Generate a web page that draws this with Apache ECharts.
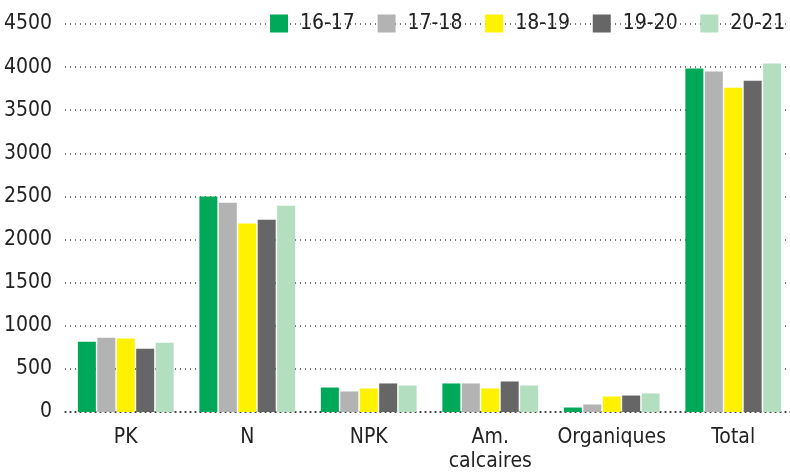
<!DOCTYPE html>
<html>
<head>
<meta charset="utf-8">
<script src="https://cdn.jsdelivr.net/npm/echarts@6/dist/echarts.min.js"></script>
<style>
  html, body { margin: 0; padding: 0; background: #fff; }
  #main { width: 790px; height: 474px; }
</style>
</head>
<body>
<div id="main"></div>
<script>
// catégories et valeurs par campagne
var categories = ['PK', 'N', 'NPK', 'Am.\ncalcaires', 'Organiques', 'Total'];
var seasons = ['16-17', '17-18', '18-19', '19-20', '20-21'];
var v1617 = [815, 2500, 284, 331, 52, 3983];
var v1718 = [862, 2428, 238, 331, 87, 3948];
var v1819 = [851, 2185, 273, 273, 180, 3762];
var v1920 = [734, 2231, 331, 354, 191, 3843];
var v2021 = [804, 2393, 307, 307, 215, 4041];
var colors = ['#00a859', '#b3b3b3', '#fff200', '#666666', '#b3dec0'];

var font = '"DejaVu Sans Condensed", "Liberation Sans Narrow", "Roboto", sans-serif';
var myChart = echarts.init(document.getElementById('main'));

var values = [v1617, v1718, v1819, v1920, v2021];
var series = [];
seasons.forEach(function (name, i) {
  series.push({
    name: name,
    type: 'bar',
    data: values[i],
    barWidth: 18,
    barGap: '8%',
    itemStyle: { color: colors[i] }
  });
});

var option = {
  animation: false,
  textStyle: { fontFamily: font },
  legend: {
    top: 13,
    left: 270,
    padding: 0,
    itemWidth: 18,
    itemHeight: 18,
    itemGap: 22.7,
    icon: 'rect',
    textStyle: { fontSize: 21, color: '#222', fontFamily: font, width: 60, padding: [0, 0, 0, 7] },
    data: seasons
  },
  grid: { left: 65, top: 24, width: 729, bottom: 62, outerBoundsMode: 'none' },
  xAxis: {
    type: 'category',
    data: categories,
    axisTick: { show: false },
    axisLine: { show: true, lineStyle: { color: '#333', type: [1, 4], width: 1.5 } },
    axisLabel: { interval: 0, fontSize: 21, color: '#222', margin: 14, lineHeight: 24, fontFamily: font }
  },
  yAxis: {
    type: 'value',
    min: 0,
    max: 4500,
    interval: 500,
    axisLine: { show: false },
    axisTick: { show: false },
    axisLabel: {
      fontSize: 21, color: '#222', margin: 13, fontFamily: font,
      formatter: function (v) { return String(v); }
    },
    splitLine: { lineStyle: { color: '#444', type: [1, 4], width: 1.5 } }
  },
  series: series
};

myChart.setOption(option);
</script>
</body>
</html>
